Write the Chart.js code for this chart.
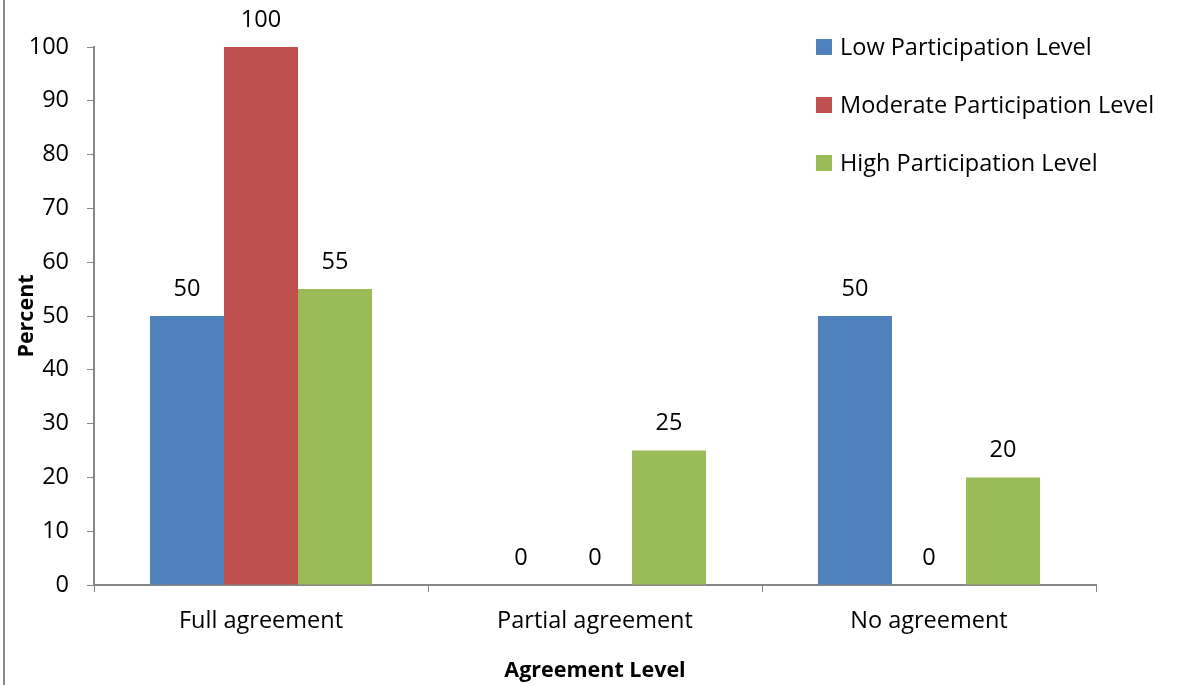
<!DOCTYPE html>
<html>
<head>
<meta charset="utf-8">
<script src="https://cdn.jsdelivr.net/npm/chart.js@4.4.1/dist/chart.umd.min.js"></script>
<style>
    html, body { margin: 0; padding: 0; background: #fff; }
    #wrap { position: relative; width: 1178px; height: 685px; }
    #frame { position: absolute; left: 3px; top: 0; width: 2px; height: 685px; background: #8a8a8a; }
</style>
</head>
<body>
<div id="wrap">
    <canvas id="chart" width="1178" height="685"></canvas>
    <div id="frame"></div>
</div>
<script>
const categories = ['Full agreement', 'Partial agreement', 'No agreement'];
const lowLevel = [50, 0, 50];
const moderateLevel = [100, 0, 0];
const highLevel = [55, 25, 20];
const seriesNames = ['Low Participation Level', 'Moderate Participation Level', 'High Participation Level'];

const blueColor = '#4f81bd';
const redColor = '#c0504d';
const greenColor = '#9bbb59';
const axisColor = '#868686';
const fontFamily = '"Open Sans", Lato, sans-serif';
const fontSize = 23.5;
const titleSize = 21.5;

// value labels above each bar
const valueLabels = {
    id: 'valueLabels',
    afterDatasetsDraw(chart) {
        const ctx = chart.ctx;
        ctx.save();
        ctx.font = `${fontSize}px ${fontFamily}`;
        ctx.fillStyle = '#000';
        ctx.textAlign = 'center';
        ctx.textBaseline = 'middle';
        chart.data.datasets.forEach((ds, i) => {
            chart.getDatasetMeta(i).data.forEach((bar, j) => {
                ctx.fillText(String(ds.data[j]), bar.x, bar.y - 27);
            });
        });
        ctx.restore();
    }
};

// legend drawn over the top right corner like the original
const sideLegend = {
    id: 'sideLegend',
    afterDraw(chart) {
        const ctx = chart.ctx;
        ctx.save();
        ctx.font = `${fontSize}px ${fontFamily}`;
        ctx.textBaseline = 'middle';
        chart.data.datasets.forEach((ds, i) => {
            const y = 47 + i * 58;
            ctx.fillStyle = ds.backgroundColor;
            ctx.fillRect(816, y - 8, 16, 16);
            ctx.fillStyle = '#000';
            ctx.fillText(ds.label, 840, y + 1);
        });
        ctx.restore();
    }
};

const ctx = document.getElementById('chart').getContext('2d');
new Chart(ctx, {
    type: 'bar',
    data: {
        labels: categories,
        datasets: [
            { label: seriesNames[0], data: lowLevel, backgroundColor: blueColor },
            { label: seriesNames[1], data: moderateLevel, backgroundColor: redColor },
            { label: seriesNames[2], data: highLevel, backgroundColor: greenColor },
        ],
    },
    options: {
        responsive: false,
        animation: false,
        layout: { padding: { top: 47, right: 82, left: 0, bottom: 0 } },
        datasets: {
            bar: { categoryPercentage: 0.665, barPercentage: 1.0, borderWidth: 0 }
        },
        plugins: {
            legend: { display: false },
            tooltip: { enabled: false },
        },
        scales: {
            x: {
                afterFit: (scale) => { scale.height = 100; },
                grid: {
                    offset: true,
                    drawOnChartArea: false,
                    color: axisColor,
                    tickLength: 7,
                },
                border: { color: axisColor, width: 2 },
                ticks: {
                    color: '#000',
                    padding: 15,
                    font: { family: fontFamily, size: fontSize },
                },
                title: {
                    display: true,
                    text: 'Agreement Level',
                    color: '#000',
                    padding: { top: 0, bottom: 1 },
                    font: { family: fontFamily, size: titleSize, weight: 'bold' },
                },
            },
            y: {
                min: 0,
                max: 100,
                afterFit: (scale) => { scale.width = 94; },
                grid: {
                    drawOnChartArea: false,
                    color: axisColor,
                    tickLength: 7,
                },
                border: { color: axisColor, width: 2 },
                ticks: {
                    stepSize: 10,
                    color: '#000',
                    padding: 18,
                    font: { family: fontFamily, size: fontSize },
                },
                title: {
                    display: true,
                    text: 'Percent',
                    color: '#000',
                    padding: { top: 14, bottom: 0 },
                    font: { family: fontFamily, size: titleSize, weight: 'bold' },
                },
            },
        },
    },
    plugins: [valueLabels, sideLegend],
});
</script>
</body>
</html>
